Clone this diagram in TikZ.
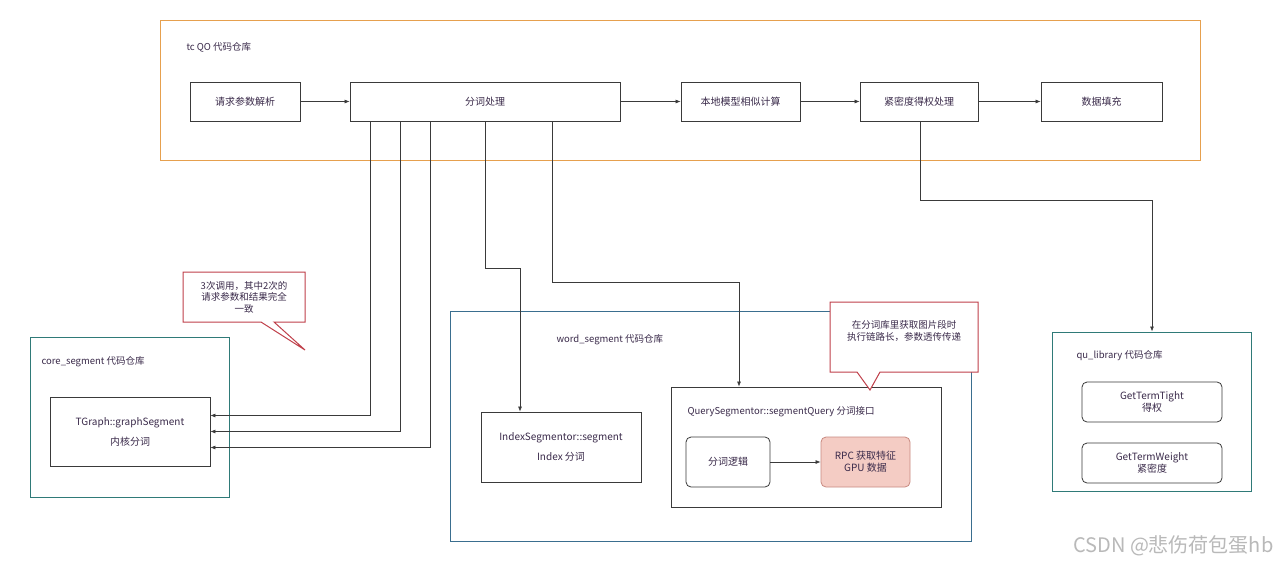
\documentclass[tikz,border=0pt]{standalone}
\usepackage{fontspec}
\setmainfont{Noto Sans CJK SC}
\usetikzlibrary{arrows.meta}
\definecolor{qoorange}{HTML}{E6A04E}
\definecolor{tealbox}{HTML}{2F7A78}
\definecolor{wordblue}{HTML}{3A6E8F}
\definecolor{boxgray}{HTML}{3A3A3A}
\definecolor{callred}{HTML}{C0404A}
\definecolor{rpcfill}{HTML}{F4CCC4}
\definecolor{rpcline}{HTML}{C88A80}
\definecolor{txt}{HTML}{3A2A4A}
\begin{document}
\begin{tikzpicture}[x=1pt,y=-1pt,
  font=\fontsize{10}{12}\selectfont, text=txt,
  box/.style={draw=boxgray, line width=0.8pt, fill=white, inner sep=0pt, align=center},
  rbox/.style={box, rounded corners=5pt},
  repo/.style={line width=1pt, inner sep=0pt},
  lbl/.style={anchor=west, font=\fontsize{9.5}{11}\selectfont},
  arr/.style={draw=boxgray, line width=0.7pt, -{Latex[length=5pt,width=4pt]}},
  callout/.style={draw=callred, line width=1pt, fill=white},
]
\useasboundingbox (0,0) rectangle (1280,568);
\fill[white] (0,0) rectangle (1280,568);

% top repository
\node[repo, draw=qoorange, minimum width=1040pt, minimum height=140pt] (qo) at (680,90) {};
\node[lbl] (qolbl) at (183,47) {tc QO 代码仓库};

\node[box, minimum width=110pt, minimum height=39pt] (req) at (245,101.5) {请求参数解析};
\node[box, minimum width=270pt, minimum height=39pt] (fc) at (485,101.5) {分词处理};
\node[box, minimum width=119pt, minimum height=39pt] (local) at (740.5,101.5) {本地模型相似计算};
\node[box, minimum width=118pt, minimum height=39pt] (tight) at (919,101.5) {紧密度得权处理};
\node[box, minimum width=121pt, minimum height=39pt] (fill) at (1101.5,101.5) {数据填充};

\draw[arr] (req) -- (fc);
\draw[arr] (fc) -- (local);
\draw[arr] (local) -- (tight);
\draw[arr] (tight) -- (fill);

% core_segment
\node[repo, draw=tealbox, minimum width=199pt, minimum height=160pt] (core) at (129.5,417) {};
\node[lbl] (corelbl) at (38,362) {core\_segment 代码仓库};
\node[box, minimum width=160pt, minimum height=69pt] (tgraph) at (130,431.5) {TGraph::graphSegment\\[8pt]内核分词};

% word_segment
\node[repo, draw=wordblue, minimum width=521pt, minimum height=230pt] (word) at (710.5,426) {};
\node[lbl] (wordlbl) at (553,340) {word\_segment 代码仓库};
\node[box, minimum width=160pt, minimum height=70pt] (index) at (561,447) {IndexSegmentor::segment\\[8pt]Index 分词};
\node[box, minimum width=270pt, minimum height=120pt] (query) at (806,447) {};
\node[lbl] (querylbl) at (684,412) {QuerySegmentor::segmentQuery 分词接口};
\node[rbox, minimum width=84pt, minimum height=50pt] (logic) at (728,462) {分词逻辑};
\node[rbox, draw=rpcline, fill=rpcfill, minimum width=89pt, minimum height=50pt] (rpc) at (865.5,462) {RPC 获取特征\\GPU 数据};
\draw[arr] (logic) -- (rpc);

% qu_library
\node[repo, draw=tealbox, minimum width=199pt, minimum height=159pt] (qu) at (1151.5,411.5) {};
\node[lbl] (qulbl) at (1073,356) {qu\_library 代码仓库};
\node[rbox, minimum width=140pt, minimum height=40pt] (gtt) at (1152,402) {GetTermTight\\得权};
\node[rbox, minimum width=140pt, minimum height=40pt] (gtw) at (1152,463) {GetTermWeight\\紧密度};

% connectors from 分词处理
\coordinate (s1) at (370,0);
\coordinate (s2) at (400,0);
\coordinate (s3) at (430,0);
\draw[arr] (fc.south -| s1) |- ([yshift=16pt]tgraph.east);
\draw[arr] (fc.south -| s2) |- (tgraph.east);
\draw[arr] (fc.south -| s3) |- ([yshift=-16pt]tgraph.east);

\coordinate (t1) at (485,268);
\coordinate (t2) at (520,268);
\draw[arr] (fc.south -| t1) -- (t1) -- (t2) -- (index.north -| t2);

\coordinate (t3) at (552,282);
\coordinate (t4) at (739,282);
\draw[arr] (fc.south -| t3) -- (t3) -- (t4) -- (query.north -| t4);

\coordinate (t5) at (920,200);
\coordinate (t6) at (1152,200);
\draw[arr] (tight.south -| t5) -- (t5) -- (t6) -- (qu.north -| t6);

% callouts
\draw[callout] (183,272) -- (305,272) -- (305,322) -- (274,322) -- (305,350) -- (261,322) -- (183,322) -- cycle;
\node[align=center, font=\fontsize{9.5}{11.5}\selectfont] (c1) at (244,297) {3次调用，其中2次的\\请求参数和结果完全\\一致};

\draw[callout] (830,302) -- (978,302) -- (978,372) -- (880,372) -- (870,390) -- (857,372) -- (830,372) -- cycle;
\node[align=center, font=\fontsize{9.5}{12}\selectfont] (c2) at (904,331) {在分词库里获取图片段时\\执行链路长，参数透传传递};

% watermark
\node[anchor=east, text=gray!55, font=\fontsize{20}{24}\selectfont] (wm) at (1277,546) {CSDN @悲伤荷包蛋hb};
\end{tikzpicture}
\end{document}
